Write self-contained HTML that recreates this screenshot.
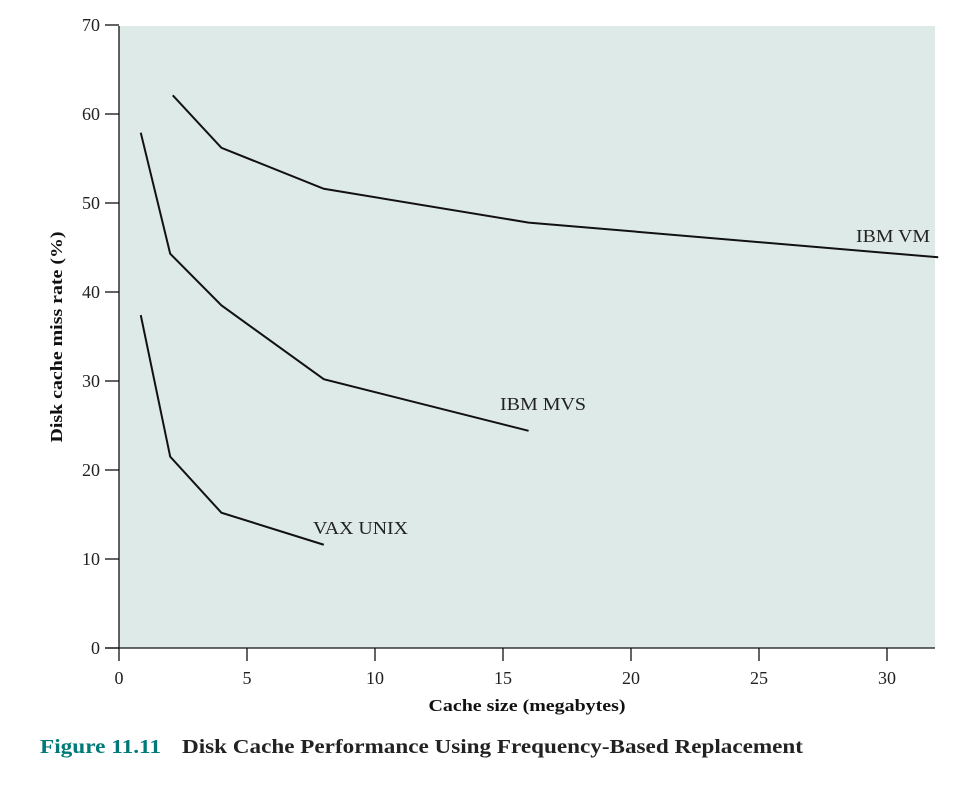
<!DOCTYPE html>
<html><head><meta charset="utf-8"><style>
body{margin:0;background:#fff;}
svg text{font-family:"Liberation Serif",serif;}
</style></head><body>
<svg id="c" width="970" height="790">
<rect x="119" y="26" width="816" height="622" fill="#deeae7"/>
<g id="axes"></g>
<g id="series"></g>
<text x="62" y="337" transform="rotate(-90 62 337)" text-anchor="middle" font-size="17" font-weight="bold" textLength="211" lengthAdjust="spacingAndGlyphs" fill="#111">Disk cache miss rate (%)</text>
<text x="527" y="711" text-anchor="middle" font-size="17" font-weight="bold" textLength="197" lengthAdjust="spacingAndGlyphs" fill="#111">Cache size (megabytes)</text>
<text x="40" y="753" font-size="20" font-weight="bold" fill="#007a78" textLength="121" lengthAdjust="spacingAndGlyphs">Figure 11.11</text>
<text x="182" y="753" font-size="20" font-weight="bold" fill="#222" textLength="621" lengthAdjust="spacingAndGlyphs">Disk Cache Performance Using Frequency-Based Replacement</text>
</svg>
<script>
const xTicks=[0,5,10,15,20,25,30];
const yTicks=[0,10,20,30,40,50,60,70];
const vmX=[2.1,4,8,16,32];
const vmY=[62.1,56.2,51.6,47.8,43.9];
const mvsX=[0.85,2,4,8,16];
const mvsY=[57.9,44.3,38.5,30.2,24.4];
const vaxX=[0.85,2,4,8];
const vaxY=[37.4,21.5,15.2,11.6];
const NS="http://www.w3.org/2000/svg";
const sx=v=>119+v*25.6;
const sy=v=>648-v*8.9;
function mk(t,a,p){const e=document.createElementNS(NS,t);for(const k in a)e.setAttribute(k,a[k]);p.appendChild(e);return e;}
const ax=document.getElementById('axes');
let l=mk('line',{x1:119,y1:26,x2:119,y2:648,stroke:'#111','stroke-width':1.3},ax);


l=mk('line',{x1:105,y1:648,x2:935,y2:648,stroke:'#111','stroke-width':1.3},ax);


yTicks.forEach(v=>{
 const t=mk('line',{x1:105,y1:sy(v),x2:119,y2:sy(v),stroke:'#111','stroke-width':1.3},ax);
 
 
 const tx=mk('text',{x:100,y:sy(v)+6,'text-anchor':'end','font-size':18,fill:'#222'},ax);
 tx.textContent=v;
 
 
});
xTicks.forEach(v=>{
 const t=mk('line',{x1:sx(v),y1:648,x2:sx(v),y2:661,stroke:'#111','stroke-width':1.3},ax);
 
 
 const tx=mk('text',{x:sx(v),y:684,'text-anchor':'middle','font-size':18,fill:'#222'},ax);
 tx.textContent=v;
 
 
});
const sg=document.getElementById('series');
function line(xs,ys,name,label,lx,ly,w){
 const p=mk('polyline',{points:xs.map((x,i)=>sx(x)+','+sy(ys[i])).join(' '),fill:'none',stroke:'#111','stroke-width':2},sg);
 
 
 const t=mk('text',{x:lx,y:ly,'font-size':18,fill:'#222',textLength:w,lengthAdjust:'spacingAndGlyphs'},sg);
 t.textContent=label;
 
 
}
line(vmX,vmY,'ibm-vm-line','IBM VM',856,242,74);
line(mvsX,mvsY,'ibm-mvs-line','IBM MVS',500,410,86);
line(vaxX,vaxY,'vax-unix-line','VAX UNIX',313,534,95);
</script>
</body></html>
